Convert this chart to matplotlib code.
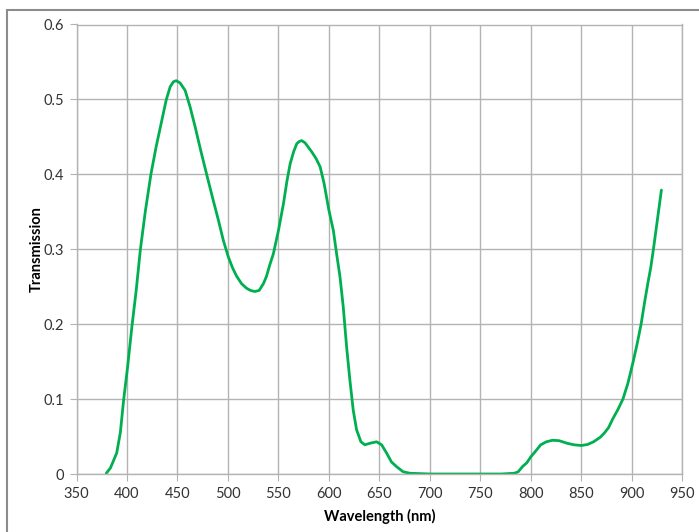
import matplotlib
matplotlib.use("Agg")
from matplotlib import pyplot as plt
from matplotlib.patches import Rectangle

# values
wavelength = [379.5, 383.6, 389.8, 393.4, 396.7, 400.7, 404.9, 409.2, 413.2, 418.1,
              423.7, 428.9, 434.5, 438.8, 442.8, 446, 448.7, 452.6, 457.6, 462.5,
              467.4, 473, 478.9, 484.9, 490.5, 495.4, 500.3, 504.6, 508.6, 513.5,
              518.4, 522.4, 526.6, 530.9, 535.1, 538.2, 541.4, 545, 550, 555,
              558.3, 561.6, 565, 568.2, 570.8, 573.1, 576.4, 583, 587.3, 591.3,
              595.2, 600, 604.4, 607.6, 611, 614.2, 617.5, 620.8, 624.1, 627.4,
              631.7, 635.6, 640.6, 647.2, 652.2, 657.1, 662, 667, 673.5, 680.2,
              700, 750, 770.5, 783.6, 787.5, 791.8, 796, 800, 805, 809.8,
              815.4, 821.3, 827.9, 836, 842.6, 850, 856.4, 862.1, 868.7, 873,
              877, 881.3, 886.2, 891.2, 896.1, 901, 905, 909.2, 912.5, 915.8,
              918.8, 921.4, 925.3, 929.3]
transmission = [0.001, 0.008, 0.028, 0.055, 0.099, 0.144, 0.197, 0.246, 0.299, 0.35,
                0.4, 0.437, 0.472, 0.499, 0.517, 0.5236, 0.525, 0.522, 0.512, 0.49,
                0.464, 0.432, 0.4, 0.368, 0.339, 0.312, 0.29, 0.275, 0.264, 0.254,
                0.248, 0.245, 0.2436, 0.245, 0.254, 0.264, 0.279, 0.294, 0.325, 0.361,
                0.39, 0.414, 0.43, 0.441, 0.444, 0.445, 0.442, 0.43, 0.421, 0.41,
                0.388, 0.352, 0.325, 0.294, 0.263, 0.223, 0.17, 0.125, 0.085, 0.059,
                0.043, 0.039, 0.041, 0.043, 0.039, 0.028, 0.016, 0.0098, 0.003, 0.001,
                0.0, 0.0, 0.0, 0.001, 0.003, 0.01, 0.015, 0.023, 0.031, 0.039,
                0.043, 0.045, 0.0445, 0.041, 0.039, 0.038, 0.0395, 0.043, 0.049, 0.055,
                0.062, 0.074, 0.086, 0.1, 0.121, 0.148, 0.172, 0.2, 0.228, 0.254,
                0.276, 0.3, 0.339, 0.379]

x_ticks = list(range(350, 951, 50))
y_ticks = [0, 0.1, 0.2, 0.3, 0.4, 0.5, 0.6]
y_labels = ['0', '0.1', '0.2', '0.3', '0.4', '0.5', '0.6']

plt.rcParams['font.family'] = ['Lato', 'DejaVu Sans']

fig = plt.figure(figsize=(6.99, 5.32), dpi=100)
ax = fig.add_axes([76.5 / 699, 1 - 474 / 532, (682.3 - 76.5) / 699, (474 - 24.5) / 532])

ax.plot(wavelength, transmission, color='#00b050', linewidth=2.0,
        solid_joinstyle='round', solid_capstyle='round')

ax.set_xlim(350, 950)
ax.set_ylim(0, 0.6)
ax.set_xticks(x_ticks)
ax.set_yticks(y_ticks)
ax.set_yticklabels(y_labels)
ax.grid(True, color='#b3b3b3', linewidth=1.0)
ax.set_axisbelow(True)
for sp in ax.spines.values():
    sp.set_color('#b3b3b3')
    sp.set_linewidth(1.0)
ax.tick_params(axis='both', length=5, color='#b3b3b3', labelsize=10.5,
               labelcolor='#333333', pad=4)

ax.set_xlabel('Wavelength (nm)', fontsize=10.5, fontweight='bold', labelpad=6)
ax.set_ylabel('Transmission', fontsize=10.5, fontweight='bold', labelpad=0)

# outer chart border (cut off at right and bottom)
fig.patches.append(Rectangle((7 / 699, -0.1), 1.2, (532 - 10) / 532 + 0.1,
                             transform=fig.transFigure, fill=False,
                             edgecolor='#8c8c8c', linewidth=1.5))

fig.savefig('out.png', dpi=100)
